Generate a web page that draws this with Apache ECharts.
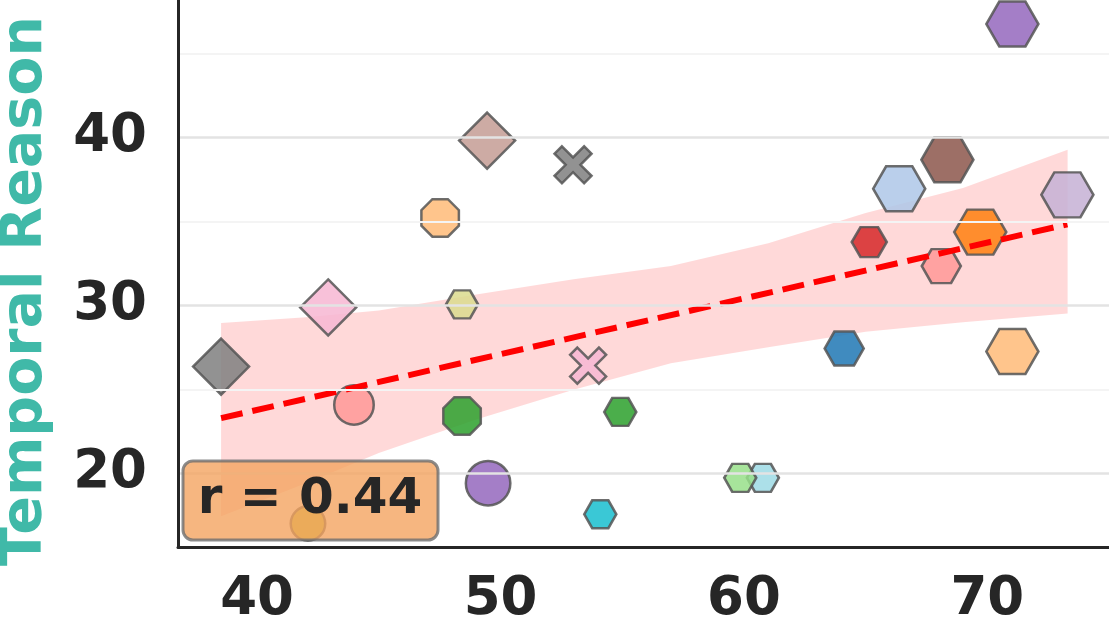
<!DOCTYPE html>
<html>
<head>
<meta charset="utf-8">
<script src="https://cdn.jsdelivr.net/npm/echarts@6/dist/echarts.min.js"></script>
<style>
  html, body { margin: 0; padding: 0; background: #fff; }
  #chart { width: 1109px; height: 628px; }
</style>
</head>
<body>
<div id="chart"></div>
<script>
// scores per model (x = other benchmark, y = temporal reasoning)
const xVals = [38.52, 42.92, 49.45, 43.98, 42.09, 49.49, 47.52, 48.42, 48.42, 52.98, 53.6, 54.92,
  54.1, 60.78, 59.85, 64.12, 65.15, 68.11, 66.38, 68.36, 69.71, 71.03, 71.03, 73.29];
const yVals = [26.35, 29.88, 39.82, 24.07, 17.0, 19.4, 35.21, 23.41, 30.06, 38.38, 26.41, 23.65,
  17.55, 19.72, 19.72, 27.43, 33.77, 32.34, 36.95, 38.68, 34.37, 46.77, 27.25, 36.59];

// confidence band of the fit
const bandX = [38.52, 42, 45, 49, 53, 57, 61, 65, 69, 73.3];
const bandHigh = [28.95, 29.3, 29.7, 30.65, 31.55, 32.35, 33.7, 35.5, 37.0, 39.28];
const bandLow = [17.43, 19.4, 21.2, 23.2, 24.97, 26.55, 27.5, 28.43, 29.0, 29.52];

const xTicks = [40, 50, 60, 70];
const yTicks = [20, 30, 40];
const yMinorTicks = [25, 35, 45];

// marker look per point (same order as the values)
const HEX = 'path://M0,43.3L25,0L75,0L100,43.3L75,86.6L25,86.6Z';
const OCT = 'path://M29.3,0L70.7,0L100,29.3L100,70.7L70.7,100L29.3,100L0,70.7L0,29.3Z';
const CROSS = 'path://M20,0L50,30L80,0L100,20L70,50L100,80L80,100L50,70L20,100L0,80L30,50L0,20Z';
const markerShape = ['diamond', 'diamond', 'diamond', 'circle', 'circle', 'circle', OCT, OCT, HEX, CROSS, CROSS, HEX,
  HEX, HEX, HEX, HEX, HEX, HEX, HEX, HEX, HEX, HEX, HEX, HEX];
const markerSize = [[56, 56], [56, 56], [56, 56], [39.5, 39.5], [34.5, 34.5], [44.5, 44.5], [37.5, 37.5], [37.5, 37.5],
  [32, 28], [37, 37], [36, 36], [32, 28], [32, 28], [32, 28], [32, 28], [39, 34], [35, 30], [39, 34],
  [52, 45], [52, 45], [52, 45], [52, 45], [52, 45], [52, 45]];
const markerColor = ['#7f7f7f', '#f7b6d2', '#c49c94', '#ff9896', '#bcbd22', '#9467bd', '#ffbb78', '#2ca02c',
  '#dbdb8d', '#7f7f7f', '#f7b6d2', '#2ca02c', '#17becf', '#9edae5', '#98df8a', '#1f77b4', '#d62728', '#ff9896',
  '#aec7e8', '#8c564b', '#ff7f0e', '#9467bd', '#ffbb78', '#c5b0d5'];

// least squares fit
function fitLine(xs, ys) {
  const n = xs.length;
  const mx = xs.reduce((a, b) => a + b, 0) / n;
  const my = ys.reduce((a, b) => a + b, 0) / n;
  let sxy = 0, sxx = 0;
  for (let i = 0; i < n; i++) {
    sxy += (xs[i] - mx) * (ys[i] - my);
    sxx += (xs[i] - mx) * (xs[i] - mx);
  }
  const slope = sxy / sxx;
  const x0 = Math.min(...xs), x1 = Math.max(...xs);
  return [[x0, my + slope * (x0 - mx)], [x1, my + slope * (x1 - mx)]];
}

const FONT = 'DejaVu Sans';
const chart = echarts.init(document.getElementById('chart'));

const points = xVals.map((x, i) => ({
  value: [x, yVals[i]],
  symbol: markerShape[i],
  symbolSize: markerSize[i],
  itemStyle: { color: markerColor[i] }
}));

const gridLines = yTicks.map(v => ({ yAxis: v, lineStyle: { color: '#e3e3e3', width: 2.5, type: 'solid' } }))
  .concat(yMinorTicks.map(v => ({ yAxis: v, lineStyle: { color: '#f4f4f4', width: 2, type: 'solid' } })));

var option = {
  animation: false,
  backgroundColor: '#fff',
  grid: { left: 178, right: 0, top: 0, bottom: 81 },
  xAxis: {
    type: 'value',
    z: 10,
    min: 36.75,
    max: 75.0,
    splitLine: { show: false },
    axisTick: { show: false },
    axisLine: { show: true, lineStyle: { color: '#262626', width: 3 } },
    axisLabel: {
      customValues: xTicks,
      margin: 27,
      color: '#262626',
      fontFamily: FONT,
      fontWeight: 'bold',
      fontSize: 53
    }
  },
  yAxis: {
    type: 'value',
    z: 10,
    min: 15.6,
    max: 48.2,
    splitLine: { show: false },
    axisTick: { show: false },
    axisLine: { show: true, lineStyle: { color: '#262626', width: 3 } },
    axisLabel: {
      customValues: yTicks,
      margin: 31,
      color: '#262626',
      fontFamily: FONT,
      fontWeight: 'bold',
      fontSize: 53
    }
  },
  series: [
    {
      // horizontal grid lines
      type: 'line',
      data: [],
      z: 0,
      silent: true,
      markLine: {
        silent: true,
        symbol: 'none',
        label: { show: false },
        data: gridLines
      }
    },
    {
      type: 'custom',
      z: 1,
      silent: true,
      data: [[bandX[0], bandLow[0]]],
      renderItem: function (params, api) {
        const pts = [];
        for (let i = 0; i < bandX.length; i++) pts.push(api.coord([bandX[i], bandHigh[i]]));
        for (let i = bandX.length - 1; i >= 0; i--) pts.push(api.coord([bandX[i], bandLow[i]]));
        return { type: 'polygon', shape: { points: pts }, style: { fill: 'rgba(255,0,0,0.15)' } };
      }
    },
    {
      type: 'scatter',
      z: 3,
      data: points,
      itemStyle: { opacity: 0.85, borderColor: '#555', borderWidth: 2.5 }
    },
    {
      type: 'line',
      z: 4,
      data: fitLine(xVals, yVals),
      symbol: 'none',
      lineStyle: { color: '#ff0000', width: 6, type: [22, 10] }
    }
  ],
  graphic: [
    {
      type: 'text',
      z: 100,
      x: 26,
      y: 566,
      rotation: Math.PI / 2,
      style: {
        text: 'Temporal Reason',
        font: 'bold 57px "DejaVu Sans"',
        fill: '#40b9a8',
        align: 'left',
        verticalAlign: 'middle'
      }
    },
    {
      type: 'rect',
      z: 100,
      shape: { x: 183, y: 461, width: 255, height: 79, r: 10 },
      style: { fill: 'rgba(244,164,96,0.8)', stroke: 'rgba(110,110,110,0.8)', lineWidth: 3 }
    },
    {
      type: 'text',
      z: 101,
      x: 310,
      y: 500,
      style: {
        text: 'r = 0.44',
        font: 'bold 50px "DejaVu Sans"',
        fill: '#262626',
        align: 'center',
        verticalAlign: 'middle'
      }
    }
  ]
};

chart.setOption(option);
</script>
</body>
</html>
